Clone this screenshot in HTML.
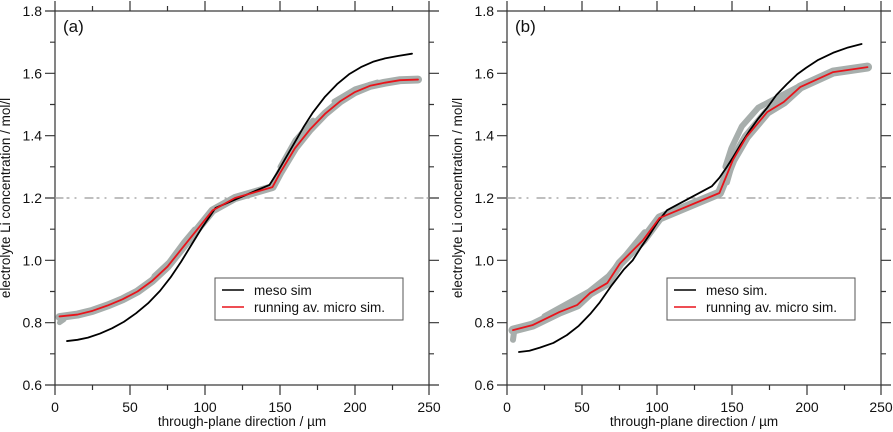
<!DOCTYPE html>
<html><head><meta charset="utf-8"><style>
body{margin:0;background:#fff}
svg{display:block;font-family:"Liberation Sans",sans-serif}
</style></head><body>
<svg width="893" height="432" viewBox="0 0 893 432" xmlns="http://www.w3.org/2000/svg">
<defs>
<g id="axes">
  <rect x="0" y="0" width="374" height="374" fill="none" stroke="#333" stroke-width="1.2"/>
  <g stroke="#333" stroke-width="1.2">
    <path d="M0 374v10M75 374v10M150 374v10M225 374v10M300 374v10M374 374v10M37.5 374v5M112.5 374v5M187.5 374v5M262.5 374v5M337.5 374v5"/>
    <path d="M0 0v-10M75 0v-10M150 0v-10M225 0v-10M300 0v-10M374 0v-10M37.5 0v-5M112.5 0v-5M187.5 0v-5M262.5 0v-5M337.5 0v-5"/>
    <path d="M0 374h-10M0 311.7h-10M0 249.3h-10M0 187h-10M0 124.7h-10M0 62.3h-10M0 0h-10M0 342.8h-5M0 280.5h-5M0 218.2h-5M0 155.8h-5M0 93.5h-5M0 31.2h-5"/>
    <path d="M374 374h10M374 311.7h10M374 249.3h10M374 187h10M374 124.7h10M374 62.3h10M374 0h10M374 342.8h5M374 280.5h5M374 218.2h5M374 155.8h5M374 93.5h5M374 31.2h5"/>
  </g>
  <g font-size="14" fill="#111" text-anchor="end">
    <text x="-13" y="379">0.6</text><text x="-13" y="316.7">0.8</text><text x="-13" y="254.3">1.0</text>
    <text x="-13" y="192">1.2</text><text x="-13" y="129.7">1.4</text><text x="-13" y="67.3">1.6</text><text x="-13" y="5">1.8</text>
  </g>
  <g font-size="14" fill="#111" text-anchor="middle">
    <text x="0" y="401">0</text><text x="75" y="401">50</text><text x="150" y="401">100</text>
    <text x="225" y="401">150</text><text x="300" y="401">200</text><text x="374" y="401">250</text>
    <text x="187" y="415" font-size="13.5">through-plane direction / µm</text>
  </g>
  <text transform="translate(-45,187) rotate(-90)" font-size="13.5" text-anchor="middle" fill="#111">electrolyte Li concentration / mol/l</text>
</g>
</defs>

<!-- Panel A -->
<g transform="translate(55,11)"><use href="#axes"/>
<text x="8" y="21" font-size="17" fill="#111">(a)</text></g>
<g transform="translate(55,385) scale(1.5,-311.67) translate(0,-0.6)" fill="none" stroke-linejoin="round" stroke-linecap="round">
  <path vector-effect="non-scaling-stroke" stroke="#999" stroke-width="1.2" stroke-dasharray="8 4 2 6 1 9" d="M0 1.2H250"/>
  <path vector-effect="non-scaling-stroke" stroke="#a7aeac" stroke-width="8" d="M3 0.818L15 0.826 25 0.838 35 0.855 45 0.875 55 0.9 65 0.935 75 0.98 85 1.04 95 1.1 105 1.16 120 1.2 145 1.235 150 1.28 160 1.36 170 1.42 180 1.47 190 1.51 200 1.54 210 1.56 220 1.57 230 1.578 242 1.58"/>
  <path vector-effect="non-scaling-stroke" stroke="#a7aeac" stroke-width="5" d="M66 0.95L76 0.995 86 1.06 93 1.1M150 1.3 160 1.385 172 1.45M186 1.51 200 1.55 215 1.572M3 0.8 6 0.81"/>
  <path vector-effect="non-scaling-stroke" stroke="#000" stroke-width="1.8" d="M8 0.741L15 0.745 22 0.752 30 0.765 38 0.782 46 0.803 54 0.83 62 0.862 70 0.902 77 0.945 84 0.995 91 1.05 98 1.105 103 1.14 107 1.168 143 1.242 148 1.28 154 1.33 160 1.38 166 1.43 172 1.475 180 1.525 188 1.565 196 1.597 204 1.62 212 1.637 220 1.648 229 1.656 238 1.663"/>
  <path vector-effect="non-scaling-stroke" stroke="#e8141b" stroke-width="1.8" d="M3 0.82L15 0.826 25 0.838 35 0.855 45 0.875 55 0.9 65 0.935 75 0.98 85 1.04 95 1.1 105 1.16 120 1.2 145 1.235 150 1.28 160 1.36 170 1.42 180 1.47 190 1.51 200 1.54 210 1.56 220 1.57 230 1.578 242 1.58"/>
</g>
<rect x="215" y="278" width="188" height="42" fill="#fff" stroke="#555" stroke-width="1"/>
<path d="M222 290h22" stroke="#000" stroke-width="1.5"/><path d="M222 307h22" stroke="#e8141b" stroke-width="1.5"/>
<text x="254" y="295" font-size="13.5" fill="#111" font-family="Liberation Sans,sans-serif">meso sim</text>
<text x="254" y="312" font-size="13.5" fill="#111" font-family="Liberation Sans,sans-serif">running av. micro sim.</text>

<!-- Panel B -->
<g transform="translate(507,11)"><use href="#axes"/>
<text x="8" y="21" font-size="17" fill="#111">(b)</text></g>
<g transform="translate(507,385) scale(1.496,-311.67) translate(0,-0.6)" fill="none" stroke-linejoin="round" stroke-linecap="round">
  <path vector-effect="non-scaling-stroke" stroke="#999" stroke-width="1.2" stroke-dasharray="8 4 2 6 1 9" d="M0 1.2H250"/>
  <path vector-effect="non-scaling-stroke" stroke="#a7aeac" stroke-width="9" d="M4 0.776L17 0.792 35 0.834 47 0.857 55.5 0.895 67 0.927 75.5 0.99 91 1.065 102 1.136 142 1.216 151 1.322 160 1.396 174 1.476 185 1.508 196 1.556 218 1.604 241 1.62"/>
  <path vector-effect="non-scaling-stroke" stroke="#a7aeac" stroke-width="6" d="M4 0.745 5 0.78M25 0.82 40 0.86 55 0.9 68 0.95 80 1.02 92 1.09M146 1.3 150 1.36 157 1.43 168 1.49 182 1.525 200 1.57 222 1.61M147 1.25 150 1.3"/>
  <path vector-effect="non-scaling-stroke" stroke="#000" stroke-width="1.8" d="M8 0.706L15 0.71 22 0.72 31 0.735 40 0.76 48 0.79 56 0.83 62 0.865 70 0.92 78 0.97 84 1.0 90 1.045 95 1.08 101 1.125 107 1.161 137 1.238 142 1.265 147 1.3 151 1.33 156 1.37 162 1.415 168 1.455 174 1.49 180 1.53 187 1.565 194 1.597 200 1.618 208 1.643 218 1.666 228 1.683 237 1.694"/>
  <path vector-effect="non-scaling-stroke" stroke="#e8141b" stroke-width="1.8" d="M4 0.776L17 0.792 35 0.834 47 0.857 55.5 0.895 67 0.927 75.5 0.99 91 1.065 102 1.136 142 1.216 151 1.322 160 1.396 174 1.476 185 1.508 196 1.556 218 1.604 241 1.62"/>
</g>
<rect x="667" y="278" width="188" height="42" fill="#fff" stroke="#555" stroke-width="1"/>
<path d="M674 290h22" stroke="#000" stroke-width="1.5"/><path d="M674 307h22" stroke="#e8141b" stroke-width="1.5"/>
<text x="706" y="295" font-size="13.5" fill="#111" font-family="Liberation Sans,sans-serif">meso sim.</text>
<text x="706" y="312" font-size="13.5" fill="#111" font-family="Liberation Sans,sans-serif">running av. micro sim.</text>
</svg>
</body></html>
